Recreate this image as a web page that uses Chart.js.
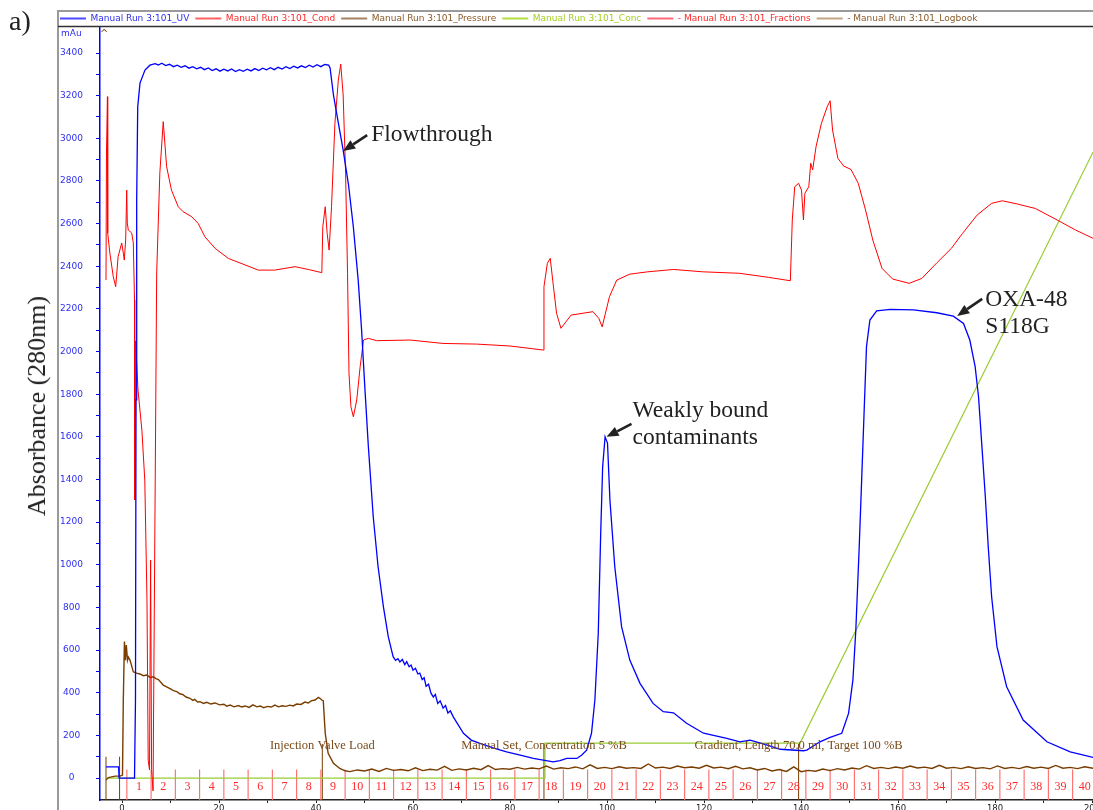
<!DOCTYPE html>
<html><head><meta charset="utf-8">
<script src="https://cdn.jsdelivr.net/npm/chart.js@4.4.0/dist/chart.umd.min.js"></script>
<style>
html,body{margin:0;padding:0;background:#fff;}
#wrap{position:relative;width:1093px;height:810px;overflow:hidden;background:#fff;}
#c{position:absolute;left:0;top:0;}
#panel{position:absolute;left:9px;top:5px;font:28px "Liberation Serif",serif;color:#222;}
#ylab{position:absolute;left:37px;top:406px;transform:translate(-50%,-50%) rotate(-90deg);font:26px "Liberation Serif",serif;color:#222;white-space:nowrap;}
</style></head><body>
<div id="wrap"><canvas id="c" width="1093" height="810"></canvas>
<div id="panel">a)</div><div id="ylab">Absorbance (280nm)</div></div>
<script>
// ---------- DATA (ml, mAu-equivalent as plotted) ----------
const seriesNames = ['Manual Run 3:101_UV','Manual Run 3:101_Cond','Manual Run 3:101_Pressure','Manual Run 3:101_Conc','Manual Run 3:101_Fractions','Manual Run 3:101_Logbook'];

const uv = [[-3.3,52],[-0.7,52],[-0.6,0],[2.58,0],[2.78,366],[2.89,1773],[3.03,2710],[3.24,3148],[3.71,3259],[4.74,3320],[5.77,3343],[6.8,3350],[7.5,3344],[8.2,3352],[9,3341],[9.8,3347],[10.6,3336],[11.4,3343],[12.2,3333],[13,3340],[13.8,3329],[14.6,3336],[15.4,3326],[16.2,3333],[17,3322],[17.8,3330],[18.6,3318],[19.4,3326],[20.2,3315],[21,3324],[21.8,3316],[22.6,3325],[23.4,3313],[24.2,3322],[25,3314],[25.8,3324],[26.6,3316],[27.4,3327],[28.2,3318],[29,3329],[29.8,3321],[30.6,3331],[31.4,3322],[32.2,3333],[33,3325],[33.8,3336],[34.6,3327],[35.4,3338],[36.2,3330],[37,3340],[37.8,3332],[38.6,3343],[39.4,3334],[40.2,3345],[41,3336],[41.8,3346],[42.6,3343],[42.9,3330],[43.6,3203],[44.6,3072],[45.6,2945],[46.7,2782],[47.7,2584],[48.7,2335],[49.4,2101],[50.1,1819],[50.8,1552],[51.8,1225],[52.8,991],[53.9,803],[54.9,663],[55.9,569],[56.4,552],[56.9,560],[57.3,544],[57.8,556],[58.3,532],[58.7,546],[59.2,522],[59.6,530],[60.0,506],[60.5,515],[61.0,488],[61.4,492],[61.9,462],[62.3,470],[62.7,430],[63.2,440],[63.7,398],[64.2,380],[64.6,392],[65.1,350],[65.6,362],[66.2,328],[66.7,340],[67.2,305],[67.7,315],[68.3,287],[70.4,210],[72.0,178],[73.8,163],[76.5,141],[79.3,123],[82.1,108],[84.8,92],[88.9,76],[90.3,82],[91.7,92],[93.8,92],[94.8,108],[95.8,131],[96.8,210],[97.5,366],[98.2,680],[98.7,1149],[99.1,1460],[99.6,1600],[100.1,1571],[100.6,1304],[101.6,991],[103.0,710],[104.7,553],[106.8,444],[109.5,350],[111.6,311],[113.7,306],[116.4,257],[119.9,210],[124.7,186],[127.4,170],[129.5,178],[132.9,155],[135.7,135],[140.5,128],[141.2,131],[143.9,170],[146.0,191],[148.4,210],[149.8,303],[150.7,460],[151.3,694],[152.0,1085],[152.5,1397],[153.0,1712],[153.5,2023],[154.2,2148],[155.6,2191],[158.4,2198],[163.2,2195],[168.0,2182],[171.4,2166],[173.5,2132],[174.8,2054],[175.9,1929],[176.6,1788],[177.3,1554],[178.0,1319],[178.6,1085],[179.3,850],[180.4,616],[182.4,428],[185.8,272],[190.7,170],[195.5,123],[200.2,97]];

const cond = [[-3.3,2335],[-3.2,2931],[-3.0,3195],[-2.95,2556],[-2.5,2462],[-1.8,2351],[-1.3,2304],[-0.8,2445],[-0.06,2509],[0.27,2462],[0.47,2429],[0.76,2523],[0.97,2757],[1.09,2603],[1.3,2570],[2.0,2556],[2.33,2509],[2.58,2241],[2.62,1304],[2.7,1700],[2.8,2050],[3.3,1820],[4.1,1632],[4.7,1397],[5.15,835],[5.4,84],[5.67,38],[5.9,1022],[6.1,40],[6.4,-60],[7.15,2368],[7.8,2837],[8.5,3078],[9.2,2867],[10.2,2757],[11.6,2679],[12.6,2656],[14.4,2632],[15.7,2601],[17.1,2538],[19.2,2484],[21.9,2437],[25.4,2406],[28.1,2382],[31.5,2382],[35.7,2398],[38.4,2385],[41.2,2370],[41.4,2585],[41.9,2679],[42.3,2554],[42.7,2476],[43.2,2679],[43.9,3070],[44.6,3273],[45.1,3348],[45.6,3203],[46.1,2836],[46.5,2367],[46.8,1898],[47.2,1741],[47.7,1694],[48.4,1773],[49.1,1929],[49.8,2054],[50.8,2062],[52.5,2051],[59.4,2054],[66.2,2038],[73.1,2035],[80.0,2026],[86.9,2007],[87.0,2304],[87.7,2414],[88.3,2437],[88.8,2335],[89.6,2179],[90.5,2109],[92.6,2171],[97.1,2187],[98.3,2156],[99.0,2116],[100.5,2257],[102.0,2335],[104.7,2363],[108.4,2374],[113.7,2385],[119.7,2374],[127.3,2367],[133.3,2348],[137.8,2332],[138.2,2617],[138.7,2773],[139.5,2789],[140.1,2757],[140.5,2617],[140.8,2742],[141.6,2773],[142.0,2883],[142.4,2852],[143.1,2961],[144.2,3070],[145.4,3148],[146.0,3176],[146.5,3039],[147.6,2906],[148.8,2870],[150.3,2854],[151.8,2789],[153.3,2664],[154.8,2523],[156.7,2390],[158.9,2340],[162.3,2320],[164.9,2343],[168.0,2416],[171.0,2484],[173.3,2554],[176.3,2640],[179.3,2695],[181.5,2707],[184.6,2692],[188.3,2671],[192.8,2617],[196.6,2570],[200.2,2531]];

const pressure = [[-3.3,-9],[-2.8,2],[-1.4,9],[-0.4,9],[0.1,14],[0.27,366],[0.5,640],[0.7,553],[0.89,624],[1.13,553],[1.3,567],[1.65,553],[2.33,498],[3.0,492],[3.7,488],[4.4,480],[5.1,483],[5.8,472],[6.45,475],[7.0,466],[7.5,462],[8.0,449],[8.5,436],[9.2,428],[10,418],[10.6,410],[11.3,405],[11.9,395],[12.5,392],[13.2,380],[14,374],[14.6,364],[15,369],[15.6,357],[16.1,358],[16.8,350],[17.5,355],[18.3,347],[19.2,352],[20.1,343],[21,346],[21.6,337],[22.3,342],[23.1,334],[24,340],[24.7,333],[25.4,338],[26.2,331],[27,343],[27.8,334],[28.5,338],[29.2,330],[30,336],[30.8,333],[31.5,342],[32.3,334],[33,339],[33.8,336],[34.6,342],[35.3,338],[36,347],[36.9,345],[37.7,356],[38.4,352],[39,362],[39.8,366],[40.5,378],[40.8,374],[41.2,366],[41.5,362],[41.9,210],[42.5,116],[43.6,69],[44.9,45],[46,34],
[47,30],[48.5,38],[50,33],[51.5,42],[53,31],[54.5,45],[56,36],[57.5,40],[59,34],[60.5,48],[62,35],[63.5,41],[65,37],[66.5,55],[68,36],[69.5,43],[71,38],[72.5,46],[74,39],[75.5,58],[77,40],[78.5,44],[80,41],[81.5,50],[83,42],[84.5,47],[86,43],[87.5,56],[89,42],[90.5,48],[92,44],[93.5,52],[95,43],[96.5,62],[98,45],[99.5,50],[101,44],[102.5,53],[104,46],[105.5,49],[107,45],[108.5,66],[110,47],[111.5,51],[113,45],[114.5,56],[116,48],[117.5,52],[119,46],[120.5,60],[122,47],[123.5,51],[125,44],[126.5,55],[128,43],[129.5,48],[131,38],[132.5,45],[134,33],[135.5,40],[137,31],[138.5,52],[140,30],[141.5,36],[143,32],[144.5,42],[146,35],[147.5,44],[149,38],[150.5,47],[152,42],[153.5,58],[155,45],[156.5,50],[158,44],[159.5,52],[161,46],[162.5,56],[164,47],[165.5,51],[167,45],[168.5,60],[170,46],[171.5,50],[173,44],[174.5,53],[176,45],[177.5,49],[179,43],[180.5,57],[182,45],[183.5,50],[185,44],[186.5,54],[188,46],[189.5,51],[191,45],[192.5,59],[194,46],[195.5,50],[197,44],[198.5,53],[200.2,46]];

const conc = [[-3.3,0],[87.2,0],[87.2,164],[139.8,164],[200.2,2935]];

const fractionBounds = [1,6,11,16,21,26,31,36,41,46,51,56,61,66,71,76,81,86,91,96,101,106,111,116,121,126,131,136,141,146,151,156,161,166,171,176,181,186,191,196,201];
const fractionNames = ['1','2','3','4','5','6','7','8','9','10','11','12','13','14','15','16','17','18','19','20','21','22','23','24','25','26','27','28','29','30','31','32','33','34','35','36','37','38','39','40'];

const logbookMl = [-3.3, -0.5, 41.3, 87.0, 139.5];
const logbookText = ['', '', 'Injection Valve Load', 'Manual Set, Concentration 5 %B', 'Gradient, Length 70.0 ml, Target 100 %B'];

const annotationText = [['Flowthrough'], ['Weakly bound','contaminants'], ['OXA-48','S118G']];
const annotationTip = [[45.6, 2940], [99.9, 1600], [172.2, 2167]];

const xTickValues = [0,10,20,30,40,50,60,70,80,90,100,110,120,130,140,150,160,170,180,190,200];
const yTickValues = [0,100,200,300,400,500,600,700,800,900,1000,1100,1200,1300,1400,1500,1600,1700,1800,1900,2000,2100,2200,2300,2400,2500,2600,2700,2800,2900,3000,3100,3200,3300,3400];

// ---------- STYLE ----------
const lineColors = ['#0000ff','#ff0000','#7a3d00','#9acd32','#ff6a6a','#7a3d00'];
const legendSampleColors = ['#4a4aff','#ff6060','#a58060','#b4dc40','#ff6a78','#c2a584'];
const legendTextColors = ['#2e2ef0','#ff2a2a','#8a5a2a','#a4d020','#ff2a2a','#8a5a2a'];
const legendPrefix = ['','','','','- ','- '];
const annotStyle = [
  {tail:[24,-16], text:[4,6], lh:27},
  {tail:[25,-13], text:[1,-7], lh:27},
  {tail:[25,-17], text:[3,7], lh:27}
];

const toXY = arr => arr.map(p => ({x:p[0], y:p[1]}));
const fracData = [];
fractionBounds.forEach(b => { fracData.push({x:b,y:-103},{x:b,y:40},{x:b,y:null}); });
const logData = [];
logbookMl.forEach((m,i) => { logData.push({x:m,y:-103},{x:m,y: logbookText[i] ? 160 : 100},{x:m,y:null}); });

const framePlugin = {
  id:'frame',
  beforeDraw(chart){
    const ctx = chart.ctx;
    ctx.save();
    ctx.fillStyle='#fff'; ctx.fillRect(0,0,chart.width,chart.height);
    ctx.restore();
  },
  afterDraw(chart){
    const ctx = chart.ctx;
    ctx.save();
    ctx.strokeStyle='#9a9a9a'; ctx.lineWidth=2;
    ctx.beginPath(); ctx.moveTo(58,810); ctx.lineTo(58,11); ctx.lineTo(1093,11); ctx.stroke();
    ctx.strokeStyle='#303030'; ctx.lineWidth=1.5;
    ctx.beginPath(); ctx.moveTo(58,26.5); ctx.lineTo(1093,26.5); ctx.stroke();
    ctx.font='9px "DejaVu Sans"'; ctx.fillStyle='#2e2ef0'; ctx.textAlign='left'; ctx.textBaseline='middle';
    ctx.fillText('mAu', 61, 34);
    ctx.font='10px "DejaVu Sans"'; ctx.fillStyle='#8a5a2a';
    ctx.fillText('^', 100, 34);
    ctx.restore();
  }
};

function arrow(ctx, x1, y1, x2, y2){
  const ang = Math.atan2(y2-y1, x2-x1);
  const hl = 12, hw = 5;
  const bx = x2 - hl*Math.cos(ang), by = y2 - hl*Math.sin(ang);
  ctx.beginPath(); ctx.moveTo(x1,y1); ctx.lineTo(bx,by); ctx.stroke();
  ctx.beginPath();
  ctx.moveTo(x2,y2);
  ctx.lineTo(bx + hw*Math.sin(ang), by - hw*Math.cos(ang));
  ctx.lineTo(bx - hw*Math.sin(ang), by + hw*Math.cos(ang));
  ctx.closePath(); ctx.fill();
}

const annotPlugin = {
  id:'annot',
  afterDatasetsDraw(chart){
    const {ctx, scales:{x,y}} = chart;
    ctx.save();
    ctx.font='12px "Liberation Serif"'; ctx.fillStyle='#ff2a2a'; ctx.textAlign='center'; ctx.textBaseline='middle';
    for(let i=0;i<fractionNames.length;i++){
      const mid = (fractionBounds[i]+fractionBounds[i+1])/2;
      ctx.fillText(fractionNames[i], x.getPixelForValue(mid), y.getPixelForValue(-40));
    }
    ctx.font='12.5px "Liberation Serif"'; ctx.fillStyle='#7a4a1a'; ctx.textBaseline='alphabetic';
    logbookMl.forEach((m,i)=>{ if(logbookText[i]) ctx.fillText(logbookText[i], x.getPixelForValue(m), 749); });
    ctx.strokeStyle='#222'; ctx.fillStyle='#222'; ctx.lineWidth=2.6; ctx.lineCap='butt';
    ctx.font='23.5px "Liberation Serif"'; ctx.textAlign='left'; ctx.textBaseline='alphabetic';
    annotationTip.forEach((t,i)=>{
      const px = x.getPixelForValue(t[0]), py = y.getPixelForValue(t[1]);
      const st = annotStyle[i];
      const tx = px + st.tail[0], ty = py + st.tail[1];
      arrow(ctx, tx, ty, px, py);
      annotationText[i].forEach((line,j)=>{
        ctx.fillText(line, tx + st.text[0], ty + st.text[1] + j*st.lh);
      });
    });
    ctx.restore();
  }
};

const datasets = [
  {label: seriesNames[0], data: toXY(uv), borderColor: lineColors[0], borderWidth: 1.3},
  {label: seriesNames[1], data: toXY(cond), borderColor: lineColors[1], borderWidth: 1},
  {label: seriesNames[2], data: toXY(pressure), borderColor: lineColors[2], borderWidth: 1.4},
  {label: seriesNames[3], data: toXY(conc), borderColor: lineColors[3], borderWidth: 1.2},
  {label: seriesNames[4], data: fracData, borderColor: lineColors[4], borderWidth: 1.1, spanGaps:false},
  {label: seriesNames[5], data: logData, borderColor: lineColors[5], borderWidth: 1, spanGaps:false}
];

new Chart(document.getElementById('c'), {
  type:'line',
  data:{datasets},
  options:{
    responsive:false, animation:false, devicePixelRatio:1,
    layout:{padding:{left:54, right:0, top:8, bottom:0}},
    elements:{point:{radius:0}, line:{tension:0}},
    plugins:{
      tooltip:{enabled:false},
      legend:{
        position:'top', align:'start', maxHeight:19,
        labels:{
          boxWidth:26, boxHeight:2, padding:6,
          font:{family:'DejaVu Sans', size:9},
          generateLabels: chart => chart.data.datasets.map((ds,i)=>({
            text: legendPrefix[i] + ds.label, fillStyle: legendSampleColors[i], strokeStyle: legendSampleColors[i],
            lineWidth:0, fontColor: legendTextColors[i], hidden:false, datasetIndex:i
          }))
        }
      }
    },
    scales:{
      x:{
        type:'linear', min:-4.536, max:200.2,
        afterBuildTicks: s => { s.ticks = xTickValues.map(v=>({value:v})); },
        afterFit: s => { s.height = 10; s.paddingLeft = 0; s.paddingRight = 0; },
        grid:{drawOnChartArea:false, tickLength:3, color:'#222'},
        border:{color:'#222', width:1.5},
        ticks:{autoSkip:false, maxRotation:0, padding:1, color:'#222', font:{family:'DejaVu Sans', size:8.5},
          callback: v => (v % 20 === 0 ? String(v) : '')}
      },
      y:{
        min:-103, max:3522,
        afterBuildTicks: s => { s.ticks = yTickValues.map(v=>({value:v})); },
        afterFit: s => { s.width = 46; s.paddingTop = 0; s.paddingBottom = 0; },
        grid:{drawOnChartArea:false, tickLength:4, color:'#0000ff'},
        border:{color:'#0000ff', width:1.5},
        ticks:{crossAlign:'center', padding:13, color:'#2e2ef0', font:{family:'DejaVu Sans', size:9},
          callback: v => (v % 200 === 0 ? String(v) : '')}
      }
    }
  },
  plugins:[framePlugin, annotPlugin]
});
</script>
</body></html>
